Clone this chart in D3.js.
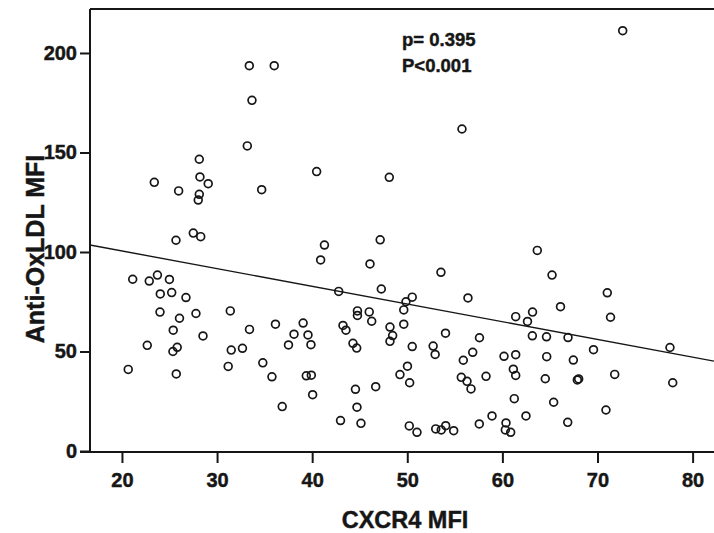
<!DOCTYPE html>
<html><head><meta charset="utf-8">
<script src="https://cdn.jsdelivr.net/npm/d3@7"></script>
<style>
html,body{margin:0;padding:0;background:#fff;}
svg{display:block;font-family:"Liberation Sans",Arial,sans-serif;}
</style></head>
<body>
<svg id="chart" width="714" height="533"></svg>
<script>
// CXCR4 MFI (x) values
const cxcr4 = [
33.39,36.01,33.67,33.18,28.13,23.40,28.20,29.07,25.96,28.13,28.02,34.69,40.47,25.68,27.50,28.28,41.29,40.89,72.65,55.75,
48.11,47.15,63.67,21.13,22.87,23.73,24.99,24.03,25.23,26.73,24.00,26.05,27.78,31.39,25.39,28.52,22.66,25.81,25.36,20.66,
25.71,31.49,32.67,31.17,46.08,47.27,42.79,33.41,36.14,39.05,38.09,39.56,44.76,44.76,46.00,46.26,43.24,43.55,48.18,48.46,
48.18,37.51,39.87,34.81,35.77,39.38,39.91,40.05,36.85,44.29,44.68,44.55,46.68,44.71,42.98,45.13,49.23,53.54,65.22,56.38,
50.52,49.86,49.63,49.63,61.40,63.17,62.64,66.11,54.02,57.59,63.15,64.64,50.52,52.72,52.93,50.02,50.25,55.89,56.88,55.68,
56.28,56.70,58.28,60.17,61.40,61.15,61.40,64.66,64.51,61.25,65.39,58.91,57.57,62.48,60.38,60.31,60.87,50.21,51.02,52.99,
53.57,54.04,54.88,71.03,71.37,66.90,69.58,67.46,67.88,68.02,71.81,77.62,77.91,70.89,66.87
];
// Anti-OxLDL MFI (y) values
const antiOxLDL = [
193.6,193.6,176.2,153.3,146.6,135.0,137.7,134.3,130.7,129.0,126.1,131.3,140.4,105.9,109.5,107.7,103.5,96.0,211.2,161.8,
137.5,106.1,100.8,86.3,85.4,88.4,86.2,78.9,79.6,77.1,69.8,66.7,69.1,70.4,60.7,57.8,53.1,52.1,50.0,41.0,
38.7,50.7,51.6,42.5,94.0,81.4,80.2,61.1,63.7,64.3,58.7,58.3,70.4,68.1,69.9,65.2,63.1,60.7,62.3,58.0,
55.1,53.3,53.4,44.3,37.3,37.8,38.1,28.3,22.3,54.1,51.7,31.0,32.3,22.0,15.3,13.9,38.4,89.8,88.4,76.9,
77.3,75.0,70.9,63.7,67.5,69.8,65.1,72.5,59.2,56.9,57.9,57.4,52.5,52.7,48.5,42.6,34.3,45.6,49.6,37.0,
35.0,31.2,37.5,47.6,48.4,41.1,38.0,47.4,36.3,26.3,24.5,17.6,13.6,17.6,14.1,10.6,9.4,12.6,9.4,11.1,
10.6,12.7,10.2,79.5,67.2,57.0,50.9,45.7,35.7,36.2,38.5,52.0,34.3,20.6,14.4
];
const xTicks = [20,30,40,50,60,70,80];
const yTicks = [0,50,100,150,200];
const fitLine = [118.3, -0.889]; // intercept, slope
const annotations = ["p= 0.395", "P<0.001"];
const xTitle = "CXCR4 MFI";
const yTitle = "Anti-OxLDL MFI";

(function(){
const svg = d3.select("#chart");
const L = 90, R = 714, T = 9, B = 451;
const x = d3.scaleLinear().domain([16.64, 82.25]).range([L, R]);
const y = d3.scaleLinear().domain([0, 222.1]).range([B, T]);
const ink = "#161616";
const heavy = sel => sel.attr("fill", ink).attr("stroke", ink).attr("stroke-width", 0.45)
  .style("font-weight","bold");

// frame: top line
svg.append("line").attr("x1", L).attr("x2", R).attr("y1", T).attr("y2", T)
  .attr("stroke", ink).attr("stroke-width", 2);

// y axis
const yAxis = svg.append("g").attr("transform", `translate(${L},0)`)
  .call(d3.axisLeft(y).tickValues(yTicks).tickSize(10).tickPadding(3).tickSizeOuter(0));
yAxis.select(".domain").remove();
yAxis.append("line").attr("x1",0).attr("x2",0).attr("y1",T).attr("y2",B+1)
  .attr("stroke", ink).attr("stroke-width", 2);
yAxis.selectAll(".tick line").attr("stroke", ink).attr("stroke-width", 2);
yAxis.selectAll(".tick text").call(heavy).style("font-size","20px");
yAxis.attr("font-family", null);

// x axis
const xAxis = svg.append("g").attr("transform", `translate(0,${B+1})`)
  .call(d3.axisBottom(x).tickValues(xTicks).tickSize(11).tickPadding(10).tickSizeOuter(0));
xAxis.select(".domain").remove();
xAxis.append("line").attr("x1", L-10).attr("x2", R).attr("y1",0).attr("y2",0)
  .attr("stroke", ink).attr("stroke-width", 2);
xAxis.selectAll(".tick line").attr("stroke", ink).attr("stroke-width", 2);
xAxis.selectAll(".tick text").call(heavy).style("font-size","20px");
xAxis.attr("font-family", null);

// regression line
const xd = x.domain();
svg.append("line")
  .attr("x1", x(xd[0])).attr("y1", y(fitLine[0] + fitLine[1]*xd[0]))
  .attr("x2", x(xd[1])).attr("y2", y(fitLine[0] + fitLine[1]*xd[1]))
  .attr("stroke", ink).attr("stroke-width", 1.4);

// points
const pts = cxcr4.map((v,i)=>({x:v, y:antiOxLDL[i]}));
svg.append("g").selectAll("circle").data(pts).join("circle")
  .attr("cx", d=>x(d.x)).attr("cy", d=>y(d.y)).attr("r", 3.9)
  .attr("fill", "none").attr("stroke", ink).attr("stroke-width", 1.7);

// annotations
svg.append("g").selectAll("text").data(annotations).join("text")
  .attr("x", 402).attr("y", (d,i)=>46 + i*25.5)
  .call(heavy).style("font-size","18.5px").text(d=>d);

// axis titles
svg.append("text").attr("x", 405).attr("y", 528).attr("text-anchor","middle")
  .call(heavy).style("font-size","23.5px").text(xTitle);
svg.append("text").attr("transform","translate(44,249) rotate(-90)").attr("text-anchor","middle")
  .call(heavy).style("font-size","25px").text(yTitle);
})();
</script>
</body></html>
